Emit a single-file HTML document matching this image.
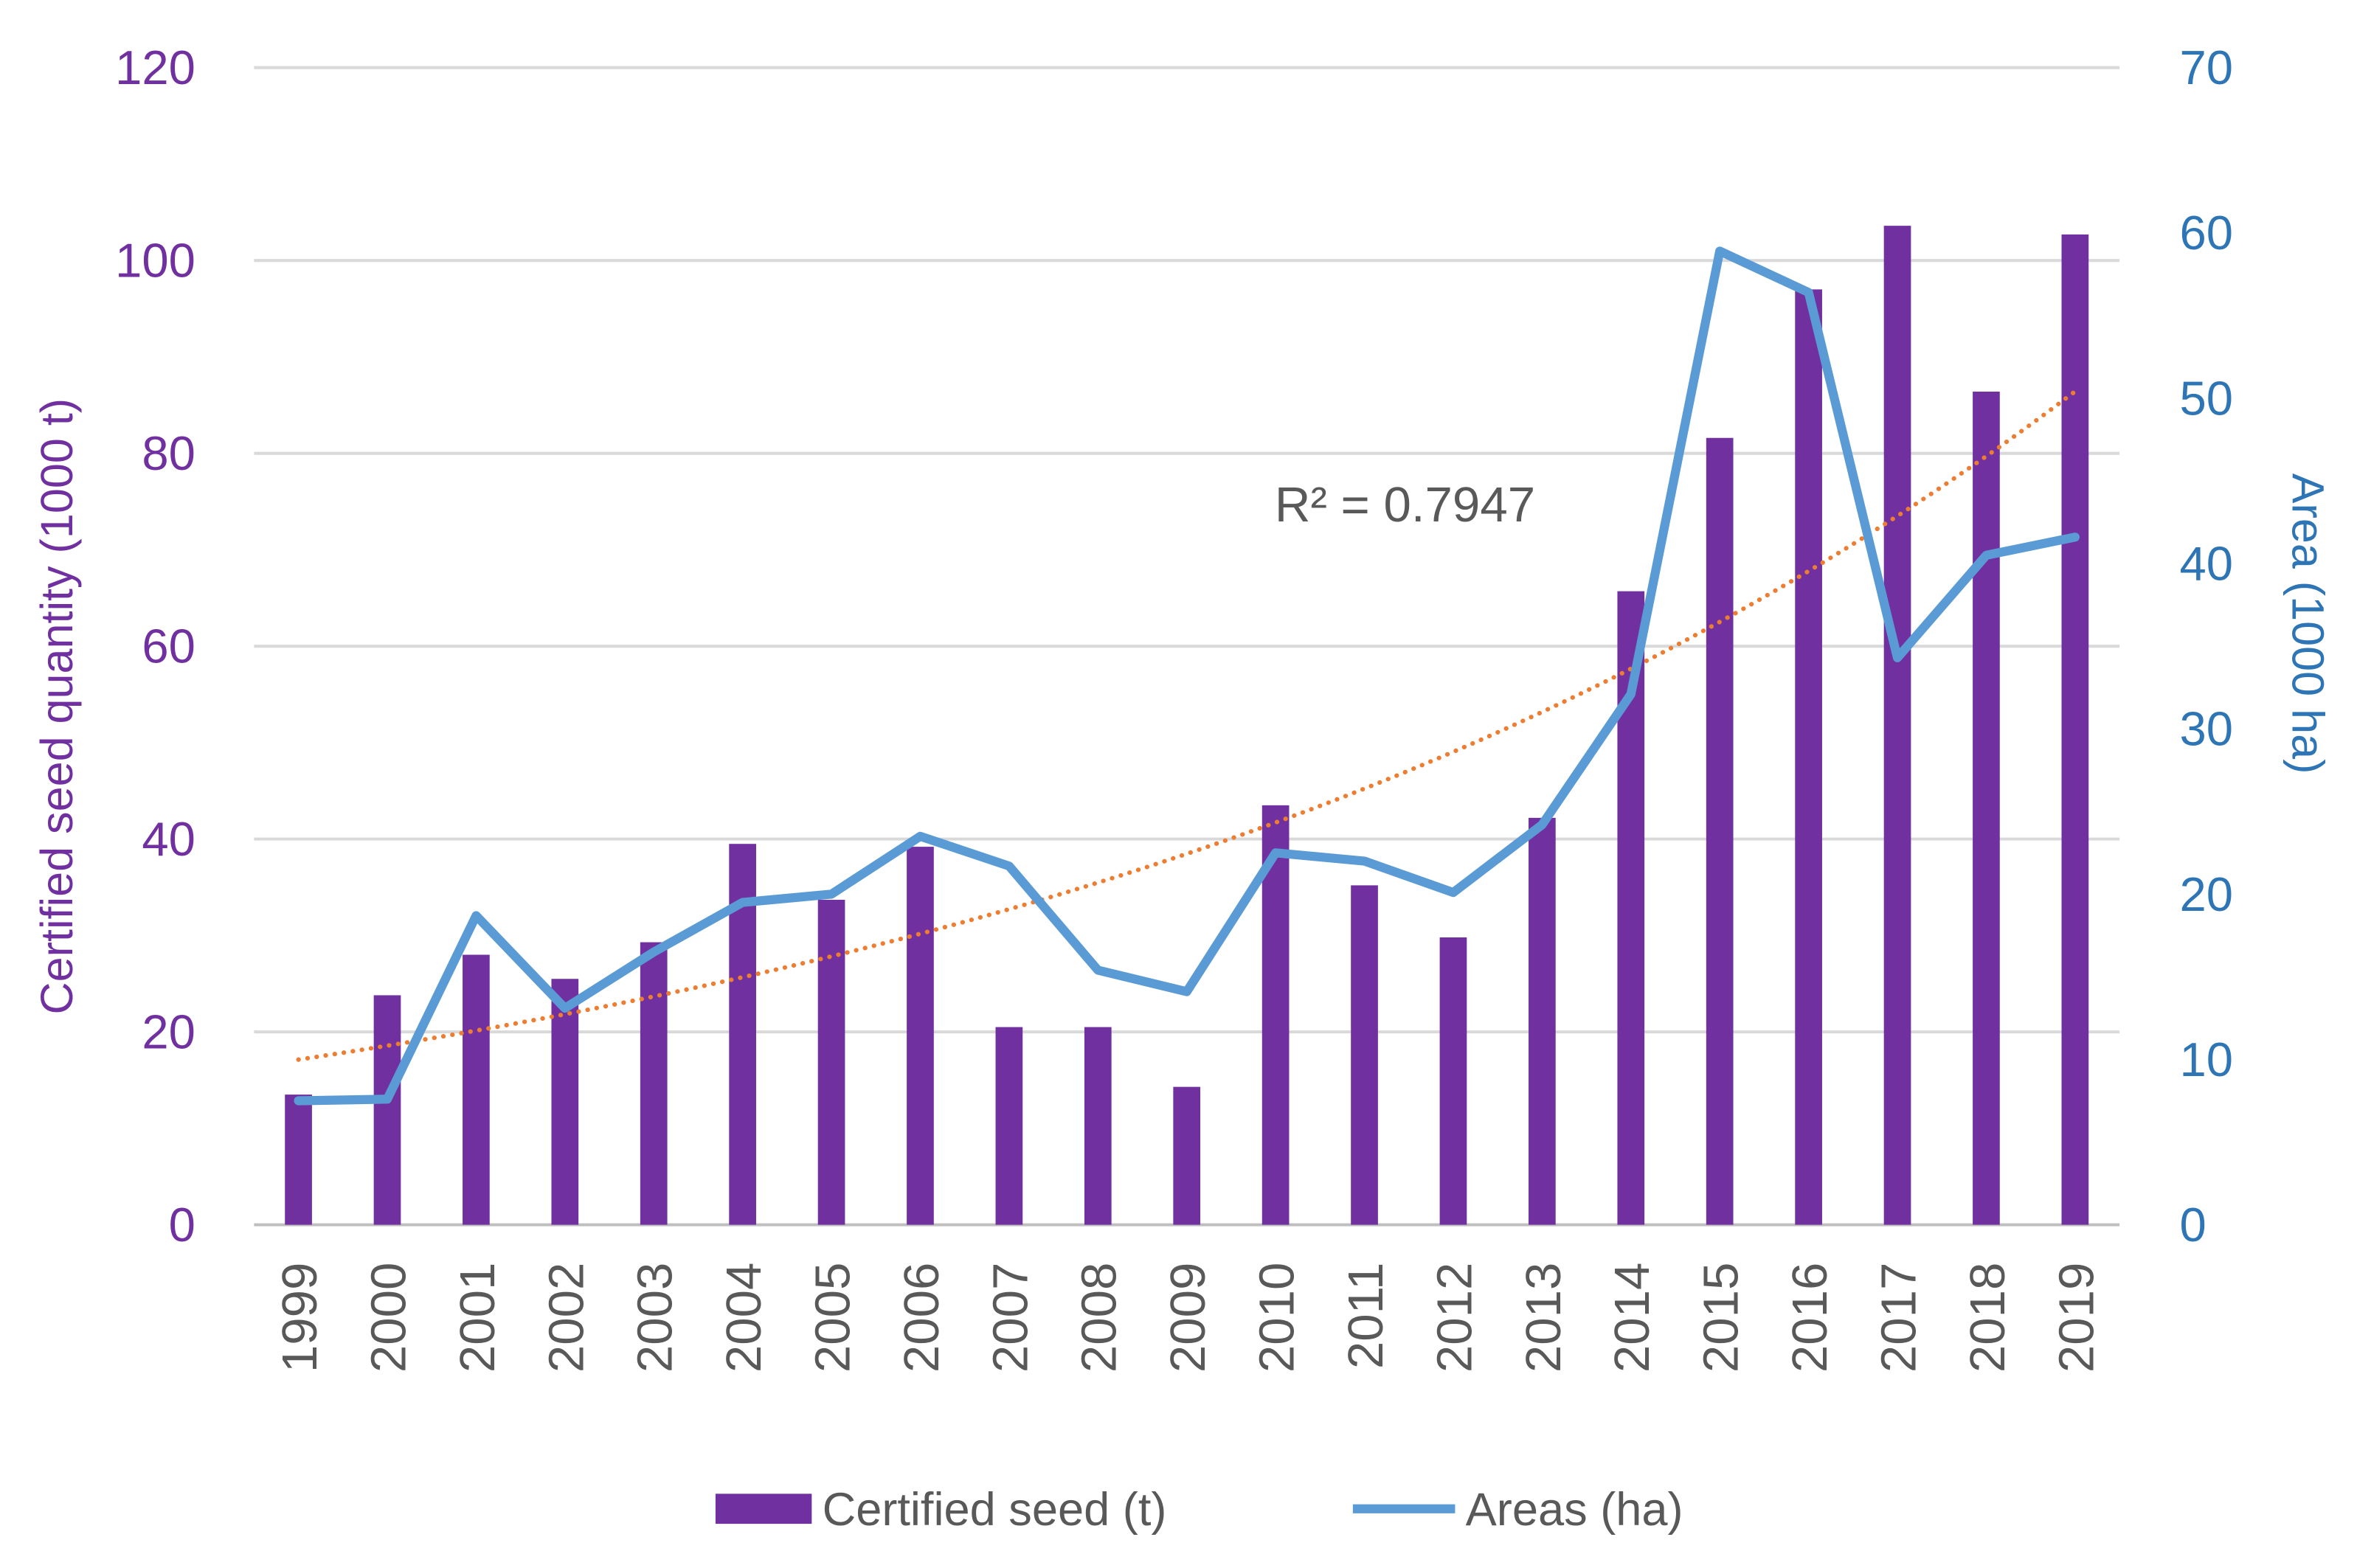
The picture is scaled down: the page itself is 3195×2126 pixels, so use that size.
<!DOCTYPE html>
<html><head><meta charset="utf-8"><style>
html,body{margin:0;padding:0;background:#fff;}
svg{display:block;}
text{font-family:"Liberation Sans",sans-serif;}
</style></head><body>
<svg id="chart" width="3195" height="2126" viewBox="0 0 1568 1043.4" preserveAspectRatio="none" xmlns="http://www.w3.org/2000/svg">
<g id="grid"></g>
<g id="bars"></g>
<g id="trend"></g>
<g id="line"></g>
<g id="axes"></g>
<text x="848" y="347" font-size="33" fill="#595959">R² = 0.7947</text>
<text transform="translate(48,470) rotate(-90)" text-anchor="middle" font-size="30" fill="#7030a0">Certified seed quantity (1000 t)</text>
<text transform="translate(1525,415) rotate(90)" text-anchor="middle" font-size="30" fill="#2e75b6">Area (1000 ha)</text>
<g>
<rect x="476" y="994" width="64" height="20" fill="#7030a0"/>
<text x="547" y="1015" font-size="31" fill="#595959">Certified seed (t)</text>
<line x1="900" y1="1004" x2="968" y2="1004" stroke="#5b9bd5" stroke-width="6"/>
<text x="975" y="1015" font-size="31" fill="#595959">Areas (ha)</text>
</g>
</svg>
<script>
const years=["1999","2000","2001","2002","2003","2004","2005","2006","2007","2008","2009","2010","2011","2012","2013","2014","2015","2016","2017","2018","2019"];
const seed=[13.5,23.8,28,25.5,29.3,39.5,33.7,39.2,20.5,20.5,14.3,43.5,35.2,29.8,42.2,65.7,81.6,97,103.6,86.4,102.7];
const area=[7.5,7.6,18.7,13.1,16.5,19.5,20,23.5,21.7,15.4,14.1,22.5,22,20.1,24.2,32.1,58.9,56.4,34.3,40.5,41.6];
const leftTicks=[0,20,40,60,80,100,120];
const rightTicks=[0,10,20,30,40,50,60,70];
const NS="http://www.w3.org/2000/svg";
const X0=169,X1=1410,Y0=815,Y1=45;
const yL=v=>Y0-(v/120)*(Y0-Y1);
const yR=v=>Y0-(v/70)*(Y0-Y1);
const step=(X1-X0)/years.length;
const xC=i=>X0+step*(i+0.5);
function mk(tag,parent,attrs){const e=document.createElementNS(NS,tag);for(const k in attrs)e.setAttribute(k,attrs[k]);document.getElementById(parent).appendChild(e);return e;}
leftTicks.forEach(t=>{
 const g=mk('line','grid',{x1:X0,x2:X1,y1:yL(t),y2:yL(t),stroke:t===0?'#bfbfbf':'#d9d9d9','stroke-width':2});
 
 
 const tx=mk('text','axes',{x:130,y:yL(t)+11,'text-anchor':'end','font-size':32,fill:'#7030a0'});
 tx.textContent=t;
 
 
});
rightTicks.forEach(t=>{
 const tx=mk('text','axes',{x:1450,y:yR(t)+11,'font-size':32,fill:'#2e75b6'});
 tx.textContent=t;
 
 
});
years.forEach((y,i)=>{
 const b=mk('rect','bars',{x:xC(i)-9,y:yL(seed[i]),width:18,height:Y0-yL(seed[i]),fill:'#7030a0'});
 
 
 const tx=mk('text','axes',{transform:`translate(${xC(i)+12},840) rotate(-90)`,'text-anchor':'end','font-size':33,fill:'#595959'});
 tx.textContent=y;
 
 
});
let n=seed.length,sx=0,sy=0,sxx=0,sxy=0;
seed.forEach((v,i)=>{const l=Math.log(v);sx+=i;sy+=l;sxx+=i*i;sxy+=i*l;});
const b=(n*sxy-sx*sy)/(n*sxx-sx*sx),a=(sy-b*sx)/n;
let d='';for(let k=0;k<=100;k++){const t=k/100*(n-1);d+=(k?'L':'M')+(X0+step*(t+0.5))+','+yL(Math.exp(a+b*t));}
const tr=mk('path','trend',{d:d,fill:'none',stroke:'#ed7d31','stroke-width':3,'stroke-dasharray':'0.1,6','stroke-linecap':'round'});


const pl=mk('polyline','line',{points:area.map((v,i)=>xC(i)+','+yR(v)).join(' '),fill:'none',stroke:'#5b9bd5','stroke-width':6,'stroke-linejoin':'round','stroke-linecap':'round'});


</script>
</body></html>
